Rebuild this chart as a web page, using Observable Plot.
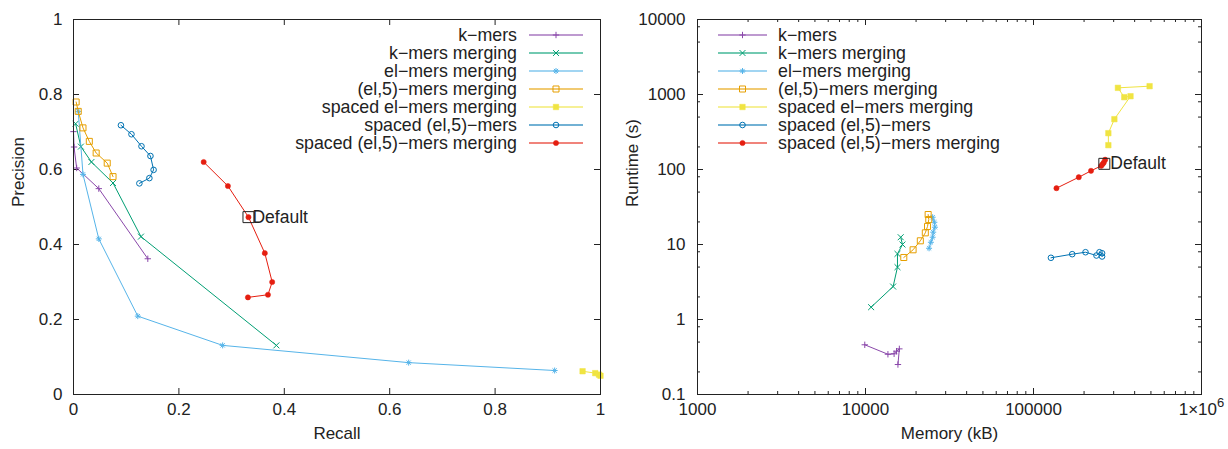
<!DOCTYPE html>
<html><head><meta charset="utf-8">
<script src="https://cdn.jsdelivr.net/npm/d3@7"></script>
<script src="https://cdn.jsdelivr.net/npm/@observablehq/plot@0.6"></script>
<style>
body{margin:0;background:#fff;}
#wrap{display:flex;width:1228px;height:449px;}
</style></head><body><div id="wrap"></div>
<script>
// ---------- series ----------
const seriesNames = ["k−mers","k−mers merging","el−mers merging","(el,5)−mers merging","spaced el−mers merging","spaced (el,5)−mers","spaced (el,5)−mers merging"];
const seriesColors = ["#8a48aa","#009e73","#56b4e9","#e69f00","#f0e442","#0072b2","#e51e10"];

// ---------- left panel: recall / precision ----------
const recallKmers        = [0.000, 0.001, 0.006, 0.048, 0.141];
const precisionKmers     = [0.701, 0.660, 0.604, 0.549, 0.362];
const recallKmersMerge   = [0.004, 0.014, 0.034, 0.075, 0.128, 0.385];
const precisionKmersMerge= [0.722, 0.661, 0.620, 0.564, 0.421, 0.131];
const recallElMerge      = [0.009, 0.018, 0.048, 0.122, 0.283, 0.636, 0.913];
const precisionElMerge   = [0.755, 0.587, 0.415, 0.209, 0.131, 0.085, 0.064];
const recallEl5Merge     = [0.005, 0.009, 0.018, 0.030, 0.043, 0.064, 0.075];
const precisionEl5Merge  = [0.780, 0.755, 0.711, 0.675, 0.644, 0.617, 0.581];
const recallSpElMerge    = [0.966, 0.990, 0.997, 1.000];
const precisionSpElMerge = [0.062, 0.057, 0.053, 0.050];
const recallSpEl5        = [0.090, 0.110, 0.129, 0.146, 0.152, 0.144, 0.125];
const precisionSpEl5     = [0.718, 0.694, 0.662, 0.636, 0.599, 0.577, 0.563];
const recallSpEl5Merge   = [0.247, 0.293, 0.332, 0.363, 0.377, 0.369, 0.331];
const precisionSpEl5Merge= [0.620, 0.556, 0.473, 0.377, 0.300, 0.266, 0.259];
const defaultRecall = [0.332];
const defaultPrecision = [0.473];

// ---------- right panel: memory (kB) / runtime (s) ----------
const memKmers        = [9900, 13600, 14800, 15300, 15900, 15600];
const rtKmers         = [0.46, 0.344, 0.349, 0.378, 0.406, 0.251];
const memKmersMerge   = [10800, 14600, 15500, 15500, 16600, 16200];
const rtKmersMerge    = [1.46, 2.75, 4.99, 7.5, 10.0, 12.5];
const memElMerge      = [23900, 24500, 25100, 25300, 25900, 25700, 25100];
const rtElMerge       = [8.9, 10.7, 12.5, 14.6, 17.0, 19.8, 23.1];
const memEl5Merge     = [16900, 19200, 21200, 22700, 23400, 23800, 23600];
const rtEl5Merge      = [6.71, 8.5, 11.2, 14.3, 17.4, 21.5, 25.1];
const memSpElMerge    = [279000, 279000, 303000, 378000, 347000, 318000, 491000];
const rtSpElMerge     = [211, 305, 469, 949, 921, 1227, 1291];
const memSpEl5        = [127000, 170000, 204000, 237000, 247000, 256000, 256000];
const rtSpEl5         = [6.65, 7.43, 7.89, 7.13, 7.89, 7.65, 6.92];
const memSpEl5Merge   = [137000, 186000, 220000, 253000, 258000, 262000, 267000];
const rtSpEl5Merge    = [56.3, 78.9, 96, 112, 118, 124, 135];
const defaultMem = [264000];
const defaultRt = [119];

// ---------- ticks ----------
const recallTicks = [0, 0.2, 0.4, 0.6, 0.8, 1];
const recallTickLabels = ["0", "0.2", "0.4", "0.6", "0.8", "1"];
const precisionTicks = [0, 0.2, 0.4, 0.6, 0.8, 1];
const precisionTickLabels = ["0", "0.2", "0.4", "0.6", "0.8", "1"];
const memoryTicks = [1000, 10000, 100000, 1000000];
const memoryTickLabels = ["1000", "10000", "100000", "1×10⁶"];
const memoryMinorTicks = [2000,3000,4000,5000,6000,7000,8000,9000,20000,30000,40000,50000,60000,70000,80000,90000,200000,300000,400000,500000,600000,700000,800000,900000];
const runtimeTicks = [0.1, 1, 10, 100, 1000, 10000];
const runtimeTickLabels = ["0.1", "1", "10", "100", "1000", "10000"];
const runtimeMinorTicks = [0.2,0.5,0.8,2,5,8,20,50,80,200,500,800,2000,5000,8000];

const defaultLabel = "Default";
const labelRecall = "Recall", labelPrecision = "Precision";
const labelMemory = "Memory (kB)", labelRuntime = "Runtime (s)";

// ---------- tables ----------
const recallSeries = [recallKmers, recallKmersMerge, recallElMerge, recallEl5Merge, recallSpElMerge, recallSpEl5, recallSpEl5Merge];
const precisionSeries = [precisionKmers, precisionKmersMerge, precisionElMerge, precisionEl5Merge, precisionSpElMerge, precisionSpEl5, precisionSpEl5Merge];
const memSeries = [memKmers, memKmersMerge, memElMerge, memEl5Merge, memSpElMerge, memSpEl5, memSpEl5Merge];
const rtSeries = [rtKmers, rtKmersMerge, rtElMerge, rtEl5Merge, rtSpElMerge, rtSpEl5, rtSpEl5Merge];
const prTables = recallSeries.map((xs, i) => xs.map((x, j) => ({series: seriesNames[i], x, y: precisionSeries[i][j]})));
const mrTables = memSeries.map((xs, i) => xs.map((x, j) => ({series: seriesNames[i], x, y: rtSeries[i][j]})));

// ---------- styles ----------
const asterisk8 = {draw(ctx, size) {
  const r = Math.sqrt(size / Math.PI), s = r * Math.SQRT1_2;
  ctx.moveTo(-r, 0); ctx.lineTo(r, 0); ctx.moveTo(0, -r); ctx.lineTo(0, r);
  ctx.moveTo(-s, -s); ctx.lineTo(s, s); ctx.moveTo(-s, s); ctx.lineTo(s, -s);
}};
const markerStyles = [
  {symbol: "plus", d3sym: d3.symbolPlus, r: 2.2, filled: false},
  {symbol: "times", d3sym: d3.symbolTimes, r: 2.8, filled: false},
  {symbol: asterisk8, d3sym: asterisk8, r: 3.0, filled: false},
  {symbol: "square", d3sym: d3.symbolSquare, r: 3.4, filled: false},
  {symbol: "square", d3sym: d3.symbolSquare, r: 3.1, filled: true},
  {symbol: "circle", d3sym: d3.symbolCircle, r: 2.8, filled: false},
  {symbol: "circle", d3sym: d3.symbolCircle, r: 2.6, filled: true}
];
const FONT = "'Liberation Sans', Arial, Helvetica, sans-serif";
const INK = "#222";
const W = 614, H = 449, MT = 19, MB = 55;

function seriesMarks(tables) {
  const marks = [];
  tables.forEach((t, i) => {
    const st = markerStyles[i], c = seriesColors[i];
    marks.push(Plot.line(t, {x: "x", y: "y", stroke: c, strokeWidth: 1}));
    marks.push(Plot.dot(t, {x: "x", y: "y", symbol: st.symbol, r: st.r,
      fill: st.filled ? c : "none", stroke: c, strokeWidth: st.filled ? 0.5 : 1}));
  });
  return marks;
}

function frameTicks(ticks, minorTicks, innerW, innerH, major, minor) {
  const m = [];
  const f = d => d;
  m.push(Plot.tickX(ticks.x, {x: f, insetTop: innerH - major, stroke: INK}));
  m.push(Plot.tickX(ticks.x, {x: f, insetBottom: innerH - major, stroke: INK}));
  m.push(Plot.tickY(ticks.y, {y: f, insetRight: innerW - major, stroke: INK}));
  m.push(Plot.tickY(ticks.y, {y: f, insetLeft: innerW - major, stroke: INK}));
  if (minorTicks.x) {
    m.push(Plot.tickX(minorTicks.x, {x: f, insetTop: innerH - minor, stroke: INK}));
    m.push(Plot.tickX(minorTicks.x, {x: f, insetBottom: innerH - minor, stroke: INK}));
  }
  if (minorTicks.y) {
    m.push(Plot.tickY(minorTicks.y, {y: f, insetRight: innerW - minor, stroke: INK}));
    m.push(Plot.tickY(minorTicks.y, {y: f, insetLeft: innerW - minor, stroke: INK}));
  }
  return m;
}

function addLegend(svg, opts) {
  const g = d3.select(svg).append("g").attr("font-family", FONT).attr("font-size", 17.8);
  seriesNames.forEach((name, i) => {
    const y = opts.top + i * opts.step;
    const c = seriesColors[i], st = markerStyles[i];
    g.append("line").attr("x1", opts.lineX1).attr("x2", opts.lineX2).attr("y1", y).attr("y2", y)
      .attr("stroke", c).attr("stroke-width", 2).attr("opacity", 0.55);
    const mx = (opts.lineX1 + opts.lineX2) / 2;
    g.append("path").attr("d", d3.symbol(st.d3sym, Math.PI * st.r * st.r)())
      .attr("transform", `translate(${mx},${y})`)
      .attr("fill", st.filled ? c : "none").attr("stroke", c).attr("stroke-width", st.filled ? 0.5 : 1);
    g.append("text").attr("x", opts.textX).attr("y", y).attr("dy", "0.35em")
      .attr("text-anchor", opts.anchor).attr("fill", INK).text(name);
  });
}

// ---------- left plot ----------
const leftML = 73, leftMR = 14;
const leftInnerW = W - leftML - leftMR, innerH = H - MT - MB;
const left = Plot.plot({
  width: W, height: H, marginLeft: leftML, marginRight: leftMR, marginTop: MT, marginBottom: MB,
  style: {fontFamily: FONT, fontSize: "17px", color: INK, background: "#fff", overflow: "visible"},
  x: {type: "linear", domain: [0, 1]},
  y: {type: "linear", domain: [0, 1]},
  marks: [
    ...frameTicks({x: recallTicks, y: precisionTicks}, {}, leftInnerW, innerH, 6, 3),
    Plot.axisX({ticks: recallTicks, tickSize: 0, tickPadding: 8, tickFormat: d => recallTickLabels[recallTicks.indexOf(d)], label: null}),
    Plot.axisY({ticks: precisionTicks, tickSize: 0, tickPadding: 11, tickFormat: d => precisionTickLabels[precisionTicks.indexOf(d)], label: null}),
    ...seriesMarks(prTables),
    Plot.dot(defaultRecall.map((x, i) => ({x, y: defaultPrecision[i]})), {x: "x", y: "y", symbol: "square", r: 6.2, fill: "none", stroke: INK, strokeWidth: 1}),
    Plot.text(defaultRecall.map((x, i) => ({x, y: defaultPrecision[i]})), {x: "x", y: "y", text: () => defaultLabel, dx: 4, textAnchor: "start", fill: INK, fontSize: 17.5}),
    Plot.text([labelRecall], {text: d => d, frameAnchor: "bottom", dy: 44, fill: INK}),
    Plot.text([labelPrecision], {text: d => d, frameAnchor: "left", dx: -55, rotate: -90, fill: INK}),
    Plot.frame({stroke: INK})
  ]
});
addLegend(left, {top: 35, step: 18, lineX1: 529, lineX2: 583, textX: 517, anchor: "end"});

// ---------- right plot ----------
const rightML = 83, rightMR = 27;
const rightInnerW = W - rightML - rightMR;
const right = Plot.plot({
  width: W, height: H, marginLeft: rightML, marginRight: rightMR, marginTop: MT, marginBottom: MB,
  style: {fontFamily: FONT, fontSize: "17px", color: INK, background: "#fff", overflow: "visible"},
  x: {type: "log", domain: [1000, 1000000]},
  y: {type: "log", domain: [0.1, 10000]},
  marks: [
    ...frameTicks({x: memoryTicks, y: runtimeTicks}, {x: memoryMinorTicks, y: runtimeMinorTicks}, rightInnerW, innerH, 6, 3),
    Plot.axisX({ticks: memoryTicks, tickSize: 0, tickPadding: 8, tickFormat: d => memoryTickLabels[memoryTicks.indexOf(d)], label: null}),
    Plot.axisY({ticks: runtimeTicks, tickSize: 0, tickPadding: 12, tickFormat: d => runtimeTickLabels[runtimeTicks.indexOf(d)], label: null}),
    ...seriesMarks(mrTables),
    Plot.dot(defaultMem.map((x, i) => ({x, y: defaultRt[i]})), {x: "x", y: "y", symbol: "square", r: 6.2, fill: "none", stroke: INK, strokeWidth: 1}),
    Plot.text(defaultMem.map((x, i) => ({x, y: defaultRt[i]})), {x: "x", y: "y", text: () => defaultLabel, dx: 6, textAnchor: "start", fill: INK, fontSize: 17.5}),
    Plot.text([labelMemory], {text: d => d, frameAnchor: "bottom", dy: 44, fill: INK}),
    Plot.text([labelRuntime], {text: d => d, frameAnchor: "left", dx: -65, rotate: -90, fill: INK}),
    Plot.frame({stroke: INK})
  ]
});
addLegend(right, {top: 35, step: 18, lineX1: 104, lineX2: 153, textX: 164, anchor: "start"});

// render the exponent of "1×10⁶" as a raised superscript, like the original
d3.select(right).selectAll("text").filter(function () { return this.textContent === "1×10⁶"; })
  .each(function () {
    const t = d3.select(this);
    t.text("1×10");
    t.append("tspan").attr("dy", "-0.55em").attr("font-size", "13px").text("6");
  });

document.getElementById("wrap").append(left, right);
</script>
</body></html>
